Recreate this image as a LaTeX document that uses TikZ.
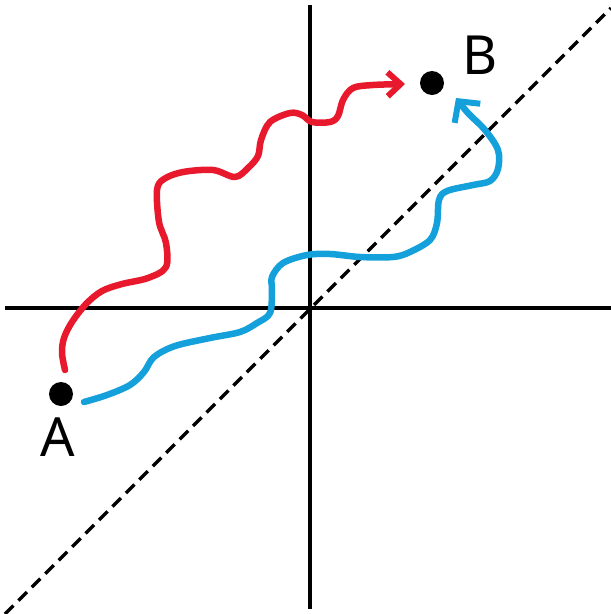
\documentclass[tikz,border=0pt]{standalone}
\usepackage{fontspec}
\setmainfont{Noto Sans}
\usetikzlibrary{arrows.meta}
\definecolor{pathred}{RGB}{232,25,44}
\definecolor{pathblue}{RGB}{20,160,218}
\begin{document}
\begin{tikzpicture}[x=1pt,y=-1pt,
  axis/.style={line width=4pt},
  diag/.style={line width=3.5pt,dash pattern=on 12pt off 7pt},
  dot/.style={circle,fill=black,inner sep=0pt,minimum size=24pt},
  lbl/.style={font=\fontsize{54}{54}\selectfont\bfseries,inner sep=0pt},
  wavy/.style={line width=6.5pt,line cap=round,line join=round},
]
\useasboundingbox[fill=white] (0,0) rectangle (611,614);
% axes
\coordinate (xl) at (5,308);
\coordinate (xr) at (611,308);
\coordinate (yt) at (310,5);
\coordinate (yb) at (310,609);
\coordinate (dl) at (5,614);
\coordinate (dr) at (611,8);
\draw[axis] (xl) -- (xr);
\draw[axis] (yt) -- (yb);
\draw[diag] (dl) -- (dr);
% points
\node[dot] (A) at (61,394) {};
\node[dot] (B) at (432,83) {};
\node[lbl] (LA) at (58,437) {A};
\node[lbl] (LB) at (480,55) {B};
% red path
\draw[wavy,pathred,-{Straight Barb[length=13pt,width=24pt,line width=6pt]}]
  plot[smooth,tension=0.55] coordinates {
  (65,370) (62,353) (64,338) (72,322) (86,304) (102,291) (122,284) (148,278)
  (166,267) (166,243) (159,222) (157,190) (164,179) (183,172) (213,170)
  (235,177) (248,168) (258,156) (261,140) (270,122) (290,113) (302,115)
  (312,122) (330,122) (338,116) (343,100) (353,88) (373,85) (405,84)};
% blue path
\draw[wavy,pathblue,-{Straight Barb[length=15pt,width=32pt,line width=6pt]}]
  plot[smooth,tension=0.55] coordinates {
  (84,402) (107,395) (130,385) (144,372) (154,357) (175,346) (210,338)
  (240,332) (257,323) (270,313) (272,290) (272,277) (283,263) (307,255)
  (330,254) (360,257) (393,257) (410,252) (430,240) (437,223) (439,200)
  (447,191) (473,185) (490,181) (498,169) (498,150) (485,130) (468,113) (456,98)};
\end{tikzpicture}
\end{document}
